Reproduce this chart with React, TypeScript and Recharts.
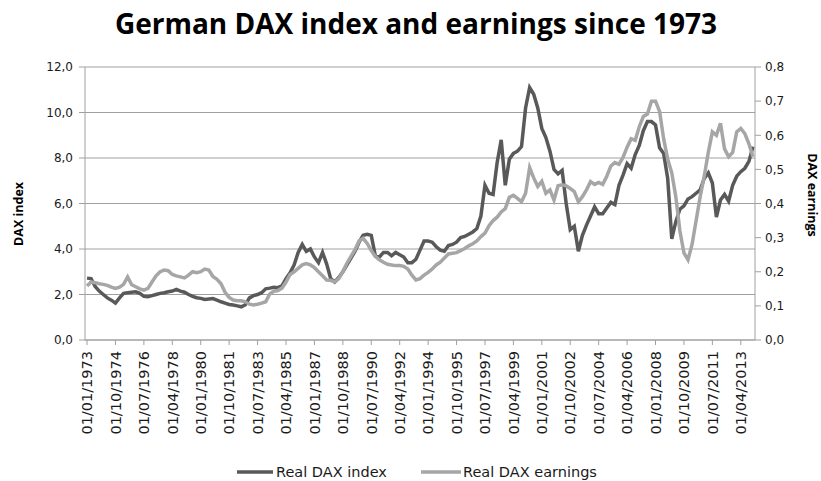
import React from 'react';
import { LineChart, Line, XAxis, YAxis, CartesianGrid } from 'recharts';

// quarterly categories, 01/01/1973 .. 01/01/2014
const quarterLabels: string[] = [];
for (let y = 1973; y <= 2014; y++) {
  for (const m of ['01', '04', '07', '10']) {
    if (y === 2014 && m !== '01') break;
    quarterLabels.push(`01/${m}/${y}`);
  }
}

// Real DAX index (left axis), one value per quarter
const daxIndex = [
  2.72, 2.7, 2.35, 2.15, // 1973
  2.0, 1.85, 1.75, 1.62, // 1974
  1.85, 2.05, 2.08, 2.1,
  2.12, 2.05, 1.92, 1.9,
  1.95, 2.0, 2.05, 2.08,
  2.12, 2.15, 2.22, 2.15,
  2.1, 2.0, 1.92, 1.86,
  1.83, 1.78, 1.8, 1.82, // 1980
  1.75, 1.68, 1.62, 1.56,
  1.54, 1.5, 1.46, 1.55,
  1.85, 1.95, 2.0, 2.08,
  2.25, 2.28, 2.32, 2.3,
  2.38, 2.7, 2.95, 3.3, // 1985
  3.85, 4.2, 3.9, 4.0,
  3.65, 3.4, 3.85, 3.35,
  2.7, 2.55, 2.75, 3.0,
  3.3, 3.6, 3.9, 4.3,
  4.6, 4.65, 4.6, 3.7, // 1990
  3.65, 3.85, 3.85, 3.7,
  3.85, 3.75, 3.65, 3.4,
  3.4, 3.55, 3.95, 4.35,
  4.35, 4.3, 4.1, 3.95,
  3.9, 4.15, 4.2, 4.3, // 1995
  4.5, 4.55, 4.65, 4.75,
  4.9, 5.45, 6.8, 6.45,
  6.4, 7.8, 8.8, 6.8,
  7.95, 8.2, 8.3, 8.5,
  10.2, 11.1, 10.8, 10.2, // 2000
  9.3, 8.9, 8.3, 7.5,
  7.3, 7.45, 6.0, 4.85,
  5.0, 3.9, 4.6, 5.05,
  5.45, 5.85, 5.55, 5.55,
  5.8, 6.05, 5.95, 6.8, // 2005
  7.25, 7.75, 7.55, 8.15,
  8.55, 9.2, 9.6, 9.6,
  9.45, 8.45, 8.2, 7.1,
  4.45, 5.2, 5.75, 5.9,
  6.2, 6.3, 6.45, 6.6, // 2010
  7.1, 7.35, 6.9, 5.4,
  6.15, 6.4, 6.1, 6.8,
  7.2, 7.4, 7.55, 7.85,
  8.5, // 2014
];

// Real DAX earnings (right axis)
const daxEarnings = [
  0.158, 0.17, 0.168, 0.165, // 1973
  0.163, 0.16, 0.155, 0.151,
  0.155, 0.163, 0.185, 0.162,
  0.156, 0.15, 0.146, 0.151,
  0.17, 0.188, 0.2, 0.205,
  0.203, 0.192, 0.188, 0.185,
  0.182, 0.19, 0.2, 0.197,
  0.2, 0.208, 0.205, 0.186, // 1980
  0.178, 0.165, 0.14, 0.125,
  0.117, 0.115, 0.115, 0.112,
  0.105, 0.103, 0.105, 0.108,
  0.112, 0.135, 0.143, 0.145,
  0.152, 0.17, 0.192, 0.2, // 1985
  0.21, 0.22, 0.224, 0.22,
  0.212, 0.2, 0.188, 0.176,
  0.175, 0.17, 0.18, 0.2,
  0.225, 0.245, 0.265, 0.29,
  0.298, 0.283, 0.262, 0.245, // 1990
  0.235, 0.228, 0.222, 0.22,
  0.218, 0.218, 0.216, 0.208,
  0.19, 0.176, 0.18, 0.19,
  0.198, 0.208, 0.22, 0.228,
  0.24, 0.252, 0.254, 0.256, // 1995
  0.262, 0.268, 0.276, 0.282,
  0.29, 0.303, 0.313, 0.335,
  0.35, 0.36, 0.375, 0.385,
  0.418, 0.424, 0.415, 0.405,
  0.43, 0.505, 0.475, 0.45, // 2000
  0.465, 0.43, 0.44, 0.41,
  0.452, 0.455, 0.452, 0.444,
  0.435, 0.405, 0.42, 0.44,
  0.464, 0.456, 0.462, 0.456,
  0.48, 0.51, 0.52, 0.515, // 2005
  0.535, 0.565, 0.59, 0.585,
  0.625, 0.655, 0.662, 0.7,
  0.7, 0.67, 0.59, 0.53,
  0.49, 0.42, 0.32, 0.255,
  0.235, 0.28, 0.35, 0.42, // 2010
  0.48, 0.55, 0.61, 0.6,
  0.635, 0.56, 0.537, 0.55,
  0.61, 0.62, 0.605, 0.575,
  0.537, // 2014
];

const indexTicks = [0, 2, 4, 6, 8, 10, 12];
const earningsTicks = [0, 0.1, 0.2, 0.3, 0.4, 0.5, 0.6, 0.7, 0.8];

const data = quarterLabels.map((date, i) => ({
  date,
  index: daxIndex[i],
  earnings: daxEarnings[i],
}));

const DARK = '#595959';
const LIGHT = '#a6a6a6';
const GRID = '#a0a0a0';

const comma = (v: number) => v.toFixed(1).replace('.', ',');

const DateTick = (props: any) => {
  const { x, y, payload } = props;
  return (
    <g transform={`translate(${x},${y})`}>
      <text
        transform="rotate(-90)"
        x={-4}
        y={0}
        dy="0.36em"
        textAnchor="end"
        fontFamily="DejaVu Sans"
        fontSize={14.5}
        fill="#1a1a1a"
      >
        {payload.value}
      </text>
    </g>
  );
};

const tickStyle = { fontFamily: 'DejaVu Sans', fontSize: 12, fill: '#1a1a1a' };

export default function App() {
  return (
    <div style={{ position: 'absolute', left: 0, top: 0, width: 821, height: 481, background: '#fff' }}>
      <LineChart width={821} height={481} data={data} margin={{ top: 67, right: 10, bottom: 0, left: 25 }}>
        <CartesianGrid yAxisId="left" vertical={false} stroke={GRID} />
        <XAxis
          dataKey="date"
          scale="band"
          interval={6}
          height={141}
          tickSize={5}
          tick={<DateTick />}
          axisLine={{ stroke: GRID }}
          tickLine={{ stroke: GRID }}
        />
        <YAxis
          yAxisId="left"
          width={60}
          domain={[0, 12]}
          ticks={indexTicks}
          tickFormatter={comma}
          tick={tickStyle}
          tickMargin={6}
          axisLine={{ stroke: GRID }}
          tickLine={{ stroke: GRID }}
        />
        <YAxis
          yAxisId="right"
          orientation="right"
          width={56}
          domain={[0, 0.8]}
          ticks={earningsTicks}
          tickFormatter={comma}
          tick={tickStyle}
          tickMargin={4}
          axisLine={{ stroke: GRID }}
          tickLine={{ stroke: GRID }}
        />
        <Line yAxisId="left" type="linear" dataKey="index" stroke={DARK} strokeWidth={3.5} dot={false} isAnimationActive={false} />
        <Line yAxisId="right" type="linear" dataKey="earnings" stroke={LIGHT} strokeWidth={3.5} dot={false} isAnimationActive={false} />
      </LineChart>
      <svg width={821} height={481} style={{ position: 'absolute', left: 0, top: 0, pointerEvents: 'none' }}>
        <text x={416} y={34} textAnchor="middle" fontFamily="Open Sans" fontWeight="bold" fontSize={28} fill="#000">
          German DAX index and earnings since 1973
        </text>
        <text transform="translate(23,214) rotate(-90)" textAnchor="middle" fontFamily="Open Sans" fontWeight="bold" fontSize={12.5} fill="#000">
          DAX index
        </text>
        <text transform="translate(808,195) rotate(90)" textAnchor="middle" fontFamily="Open Sans" fontWeight="bold" fontSize={12.5} fill="#000">
          DAX earnings
        </text>
        <line x1={237} y1={472} x2={273} y2={472} stroke={DARK} strokeWidth={3.5} />
        <text x={276} y={477} fontFamily="DejaVu Sans" fontSize={14.5} fill="#1a1a1a">Real DAX index</text>
        <line x1={421} y1={472} x2={461} y2={472} stroke={LIGHT} strokeWidth={3.5} />
        <text x={463} y={477} fontFamily="DejaVu Sans" fontSize={14.5} fill="#1a1a1a">Real DAX earnings</text>
      </svg>
    </div>
  );
}
